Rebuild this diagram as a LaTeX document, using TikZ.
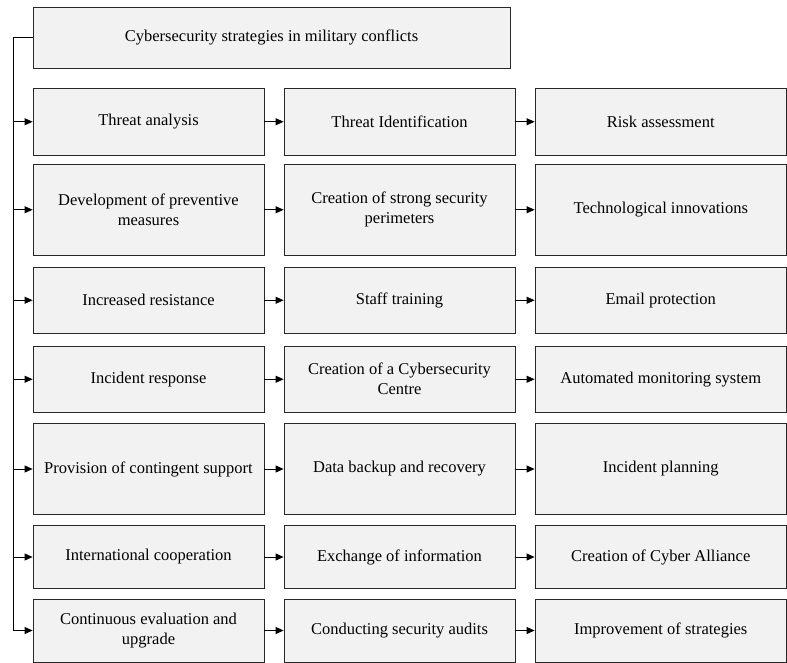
\documentclass[tikz,border=0pt]{standalone}
\usepackage{fontspec}
\setmainfont{Liberation Serif}
\usetikzlibrary{arrows.meta}
\definecolor{boxfill}{RGB}{242,242,242}
\definecolor{boxline}{RGB}{40,40,40}

\begin{document}
\begin{tikzpicture}[x=1pt,y=1pt,yscale=-1,xscale=1,
  stratbox/.style={draw=boxline,fill=boxfill,line width=0.8pt,rectangle,
    inner sep=1pt,align=center,font=\fontsize{16.5}{20}\selectfont},
  cola/.style={stratbox,minimum width=231pt},
  colb/.style={stratbox,minimum width=231pt},
  colc/.style={stratbox,minimum width=251.5pt},
  link/.style={line width=0.8pt,draw=black,-{Triangle[length=8pt,width=7pt]}}]
\useasboundingbox (0,0) rectangle (787,662);

%Shape: Title box
\node[stratbox,minimum width=477pt,minimum height=61pt] (title) at (271.5,37.5) {Cybersecurity strategies in military conflicts};

%Row 1
\node[cola,minimum height=67.5pt] (ra1) at (148.5,121.75) {Threat analysis};
\node[colb,minimum height=67.5pt] (rb1) at (399.5,121.75) {Threat Identification};
\node[colc,minimum height=67.5pt] (rc1) at (660.75,121.75) {Risk assessment};
%Row 2
\node[cola,minimum height=90.5pt] (ra2) at (148.5,209.75) {Development of preventive\\measures};
\node[colb,minimum height=90.5pt] (rb2) at (399.5,209.75) {Creation of strong security\\perimeters};
\node[colc,minimum height=90.5pt] (rc2) at (660.75,209.75) {Technological innovations};
%Row 3
\node[cola,minimum height=66.5pt] (ra3) at (148.5,300.25) {Increased resistance};
\node[colb,minimum height=66.5pt] (rb3) at (399.5,300.25) {Staff training};
\node[colc,minimum height=66.5pt] (rc3) at (660.75,300.25) {Email protection};
%Row 4
\node[cola,minimum height=66.5pt] (ra4) at (148.5,379.25) {Incident response};
\node[colb,minimum height=66.5pt] (rb4) at (399.5,379.25) {Creation of a Cybersecurity\\Centre};
\node[colc,minimum height=66.5pt] (rc4) at (660.75,379.25) {Automated monitoring system};
%Row 5
\node[cola,minimum height=91pt] (ra5) at (148.5,469) {Provision of contingent support};
\node[colb,minimum height=91pt] (rb5) at (399.5,469) {Data backup and recovery};
\node[colc,minimum height=91pt] (rc5) at (660.75,469) {Incident planning};
%Row 6
\node[cola,minimum height=63pt] (ra6) at (148.5,557) {International cooperation};
\node[colb,minimum height=63pt] (rb6) at (399.5,557) {Exchange of information};
\node[colc,minimum height=63pt] (rc6) at (660.75,557) {Creation of Cyber Alliance};
%Row 7
\node[cola,minimum height=63pt] (ra7) at (148.5,630.5) {Continuous evaluation and\\upgrade};
\node[colb,minimum height=63pt] (rb7) at (399.5,630.5) {Conducting security audits};
\node[colc,minimum height=63pt] (rc7) at (660.75,630.5) {Improvement of strategies};

%Straight Lines: spine
\coordinate (spine) at (13,37.5);
\draw[line width=0.8pt] (title.west) -- (spine) -- (spine |- ra7.west);
\foreach \i in {1,...,7}{
  \draw[link] (spine |- ra\i.west) -- (ra\i.west);
  \draw[link] (ra\i.east) -- (rb\i.west);
  \draw[link] (rb\i.east) -- (rc\i.west);
}

\end{tikzpicture}
\end{document}
